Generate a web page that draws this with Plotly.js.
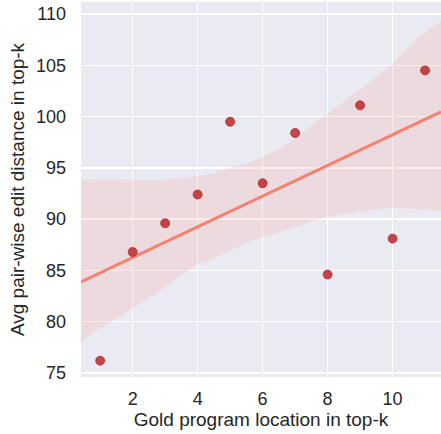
<!DOCTYPE html>
<html>
<head>
<meta charset="utf-8">
<script src="https://cdn.plot.ly/plotly-3.0.1.min.js"></script>
<style>html,body{margin:0;padding:0;background:#fff;}#chart{width:441px;height:434px;}</style>
</head>
<body>
<div id="chart"></div>
<script>
// Data
const goldLocation = [1, 2, 3, 4, 5, 6, 7, 8, 9, 10, 11];
const avgEditDistance = [76.2, 86.8, 89.6, 92.4, 99.5, 93.5, 98.4, 84.6, 101.1, 88.1, 104.5];

// Bootstrapped confidence band edges
const ciX     = [0.41, 0.84, 1.25, 2.0,  2.79, 4.02, 4.33, 4.48, 5.61, 5.76, 6.02, 6.63, 7.66, 7.97, 8.69, 9.71, 10.02, 10.74, 11.49];
const ciUpper = [93.85, 93.9, 93.9, 93.85, 93.8, 94.2, 94.35, 94.5, 95.5, 95.7, 96.1, 97.0, 99.5, 100.2, 101.9, 104.4, 105.2, 107.6, 109.3];
const ciLower = [78.0, 79.1, 79.8, 81.3, 82.9, 85.7, 86.0, 86.2, 87.8, 88.0, 88.3, 88.9, 89.9, 90.2, 90.6, 91.0, 91.1, 91.0, 90.8];

const xRange = [0.41, 11.49];
const yRange = [74.61, 111.17];

// least-squares fit
const n = goldLocation.length;
const mx = goldLocation.reduce((a, b) => a + b, 0) / n;
const my = avgEditDistance.reduce((a, b) => a + b, 0) / n;
let sxy = 0, sxx = 0;
for (let i = 0; i < n; i++) {
  sxy += (goldLocation[i] - mx) * (avgEditDistance[i] - my);
  sxx += (goldLocation[i] - mx) ** 2;
}
const slope = sxy / sxx;
const intercept = my - slope * mx;
const fitX = [xRange[0], xRange[1]];
const fitY = fitX.map(x => intercept + slope * x);

const fontFam = '"Liberation Sans", Arial, "DejaVu Sans", sans-serif';

const traces = [
  {
    x: ciX.concat(ciX.slice().reverse()),
    y: ciUpper.concat(ciLower.slice().reverse()),
    type: 'scatter', mode: 'lines', fill: 'toself',
    fillcolor: 'rgba(250,128,114,0.15)', line: {width: 0, color: 'rgba(0,0,0,0)'},
    hoverinfo: 'skip', showlegend: false
  },
  {
    x: fitX, y: fitY, type: 'scatter', mode: 'lines',
    line: {color: '#F8806F', width: 3}, showlegend: false
  },
  {
    x: goldLocation, y: avgEditDistance, type: 'scatter', mode: 'markers',
    marker: {color: 'rgba(190,45,48,0.88)', size: 9, line: {color: 'rgba(170,35,40,0.9)', width: 0.8}},
    showlegend: false
  }
];

const layout = {
  width: 441, height: 434,
  margin: {l: 81, r: 0, t: 2, b: 57, pad: 0},
  paper_bgcolor: '#ffffff',
  plot_bgcolor: '#EAEAF2',
  font: {family: fontFam, color: '#262626', size: 18},
  xaxis: {
    range: xRange, tickvals: [2, 4, 6, 8, 10], ticktext: ['2', '4', '6', '8', '10'],
    showgrid: true, gridcolor: '#ffffff', gridwidth: 1.5, zeroline: false,
    showline: false, ticks: '', ticklabelstandoff: 9,
    tickfont: {size: 18, family: fontFam, color: '#262626'},
    title: {text: 'Gold program location in top-k', font: {size: 19, family: fontFam, color: '#262626'}, standoff: 4}
  },
  yaxis: {
    range: yRange, tickvals: [75, 80, 85, 90, 95, 100, 105, 110],
    showgrid: true, gridcolor: '#ffffff', gridwidth: 1.5, zeroline: false,
    showline: false, ticks: '', ticklabelstandoff: 14,
    tickfont: {size: 18, family: fontFam, color: '#262626'},
    title: {text: 'Avg pair-wise edit distance in top-k', font: {size: 19, family: fontFam, color: '#262626'}, standoff: 6}
  }
};

Plotly.newPlot('chart', traces, layout, {displayModeBar: false, staticPlot: true});
</script>
</body>
</html>
